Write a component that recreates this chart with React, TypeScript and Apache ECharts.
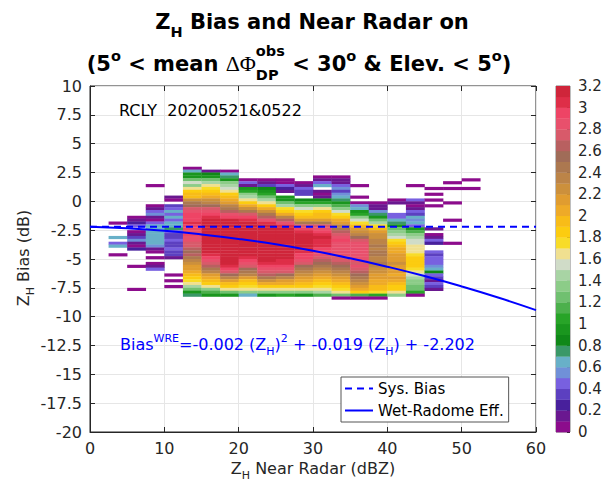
import React, { useEffect, useRef } from 'react';
import * as echarts from 'echarts';

// ---------------- data ----------------
const N = null;
// left edge (dBZ) of each 2.5-dBZ column
const X_LEFT = [2.5, 5, 7.5, 10, 12.5, 15, 17.5, 20, 22.5, 25, 27.5, 30, 32.5, 35, 37.5, 40, 42.5, 45, 47.5, 50];
// top edge (dB) of the first row of each column; rows go downward in 0.25 dB steps
const COL_TOP = [-1.75, -1.25, 1.5, 0.5, 3.0, 2.75, 2.75, 2.0, 2.0, 2.0, 1.75, 2.25, 2.25, 1.5, 0.0, 0.25, 1.5, 1.25, 1.75, 2.0];
const X_BIN = 2.5;
const Y_BIN = 0.25;

// log10(count) per cell, top row first
const col02_5 = [0.05, N, N, N, N, 0.65, N, 0.4, 0.6, N, N, 0.05];
const col05_0 = [0.05, 0.15, 0.2, 0.45, N, 0.05, 0.1, 0.35, 0.55, 0.15, 0.05, 0.25, N, N, N, N, N, 0.05, N, N, N, N, N, N, N, 0.05];
const col07_5 = [0.05, N, N, N, N, N, N, 0.05, 0.1, 0.45, 0.5, 0.1, 0.05, 0.4, 0.65, 0.65, 0.6, 0.65, 0.65, 0.65, 0.6, 0.55, 0.15, 0.05, N, 0.05, N, 0.05, 0.1, 0.4];
const col10_0 = [0.1, 0.05, N, 0.3, 0.45, 0.65, 0.4, 0.65, 0.4, 0.65, 0.6, 0.75, 0.45, 0.35, 0.35, 0.4, 0.35, 0.35, 0.4, 0.35, 0.3, 0.1, N, N, N, N, N, 0.05, N, 0.05, N, 0.05];
const col12_5 = [0.05, 0.6, 0.9, 0.95, 1.25, 1.5, 1.35, 1.6, 1.8, 1.9, 1.95, 2.2, 2.4, 2.55, 2.7, 2.8, 2.9, 2.95, 2.9, 3.0, 2.95, 2.9, 2.85, 2.9, 2.8, 2.85, 2.75, 2.7, 2.65, 2.55, 2.6, 2.45, 2.35, 2.25, 2.15, 2.1, 2.0, 1.9, 1.85, 1.75, 1.6, 1.45, 1.2, 0.95, 0.75];
const col15_0 = [0.1, 0.85, 0.95, 1.2, 1.45, 1.6, 1.75, 1.85, 1.95, 2.05, 2.2, 2.35, 2.5, 2.7, 2.85, 2.95, 3.05, 3.1, 3.15, 3.15, 3.15, 3.1, 3.15, 3.15, 3.1, 3.15, 3.1, 3.15, 3.1, 3.0, 2.9, 2.8, 2.7, 2.6, 2.45, 2.3, 2.15, 2.05, 1.9, 1.8, 1.65, 1.35, 1.1, 0.9];
const col17_5 = [0.05, 0.65, 0.7, 0.95, 1.3, 1.45, 1.55, 1.65, 1.8, 1.9, 2.0, 2.15, 2.3, 2.45, 2.6, 2.8, 2.95, 3.1, 3.15, 3.15, 3.15, 3.15, 3.15, 3.1, 3.15, 3.15, 3.15, 3.1, 3.15, 3.15, 3.15, 3.1, 3.1, 3.05, 2.9, 2.75, 2.55, 2.35, 2.15, 1.95, 1.8, 1.6, 1.25, 0.95];
const col20_0 = [0.05, 0.45, 0.1, 0.9, 1.0, 1.3, 1.45, 1.65, 1.8, 2.05, 2.25, 2.45, 2.7, 2.9, 3.05, 3.1, 3.15, 3.15, 3.15, 3.15, 3.1, 3.15, 3.15, 3.15, 3.1, 3.15, 3.1, 3.0, 2.9, 2.8, 2.7, 2.55, 2.45, 2.3, 2.1, 1.95, 1.85, 1.75, 1.6, 1.3, 0.65];
const col22_5 = [0.05, 0.1, 0.35, 0.85, 0.95, 1.05, 1.25, 1.45, 1.65, 1.85, 2.05, 2.2, 2.45, 2.65, 2.85, 3.0, 3.1, 3.15, 3.15, 3.15, 3.15, 3.1, 3.15, 3.15, 3.15, 3.1, 3.15, 3.1, 3.1, 3.0, 2.9, 2.85, 2.75, 2.6, 2.4, 2.2, 2.0, 1.85, 1.65, 1.3, 0.95];
const col25_0 = [0.05, 0.05, 0.45, 0.2, 0.1, N, 0.9, 0.95, 1.2, 1.4, 1.7, 1.85, 2.05, 2.3, 2.6, 2.85, 3.0, 3.1, 3.15, 3.15, 3.15, 3.15, 3.1, 3.15, 3.15, 3.15, 3.1, 3.1, 3.05, 3.0, 2.9, 2.85, 2.75, 2.55, 2.35, 2.15, 2.0, 1.85, 1.65, 1.3, 1.0];
const col27_5 = [0.05, 0.1, 0.45, 0.35, 0.3, N, 0.85, 1.0, 1.3, 1.5, 1.75, 1.85, 1.95, 2.15, 2.45, 2.75, 2.9, 3.0, 3.1, 3.15, 3.1, 3.15, 3.1, 3.1, 3.0, 2.95, 2.9, 2.85, 2.7, 2.55, 2.4, 2.3, 2.2, 2.1, 2.0, 1.9, 1.8, 1.6, 1.3, 0.95];
const col30_0 = [0.05, 0.15, 0.45, 0.6, N, 0.1, 0.05, 0.15, 0.85, 1.05, 1.3, 1.6, 1.8, 1.9, 1.95, 2.15, 2.45, 2.7, 2.85, 2.95, 3.0, 3.1, 3.05, 3.05, 3.0, 2.95, 2.9, 2.85, 2.75, 2.65, 2.55, 2.45, 2.35, 2.25, 2.15, 2.05, 1.95, 1.85, 1.75, 1.65, 1.45, 1.1];
const col32_5 = [0.05, 0.1, 0.15, 0.4, 0.5, 0.35, 0.55, 0.65, 0.75, 0.9, 1.15, 1.35, 1.55, 1.75, 1.85, 2.0, 2.15, 2.3, 2.45, 2.65, 2.75, 2.85, 2.9, 2.85, 2.85, 2.8, 2.85, 2.8, 2.75, 2.75, 2.65, 2.55, 2.45, 2.35, 2.25, 2.1, 2.0, 1.9, 1.85, 1.75, 1.6, 1.2, 0.05];
const col35_0 = [0.05, N, N, N, 0.05, N, 0.05, 0.55, 0.65, 0.9, 1.05, 1.3, 1.5, 1.75, 1.9, 2.1, 2.25, 2.35, 2.5, 2.7, 2.8, 2.85, 2.8, 2.85, 2.8, 2.8, 2.85, 2.75, 2.8, 2.75, 2.6, 2.5, 2.4, 2.35, 2.2, 2.1, 2.0, 1.85, 1.1, 0.05];
const col37_5 = [0.05, 0.1, 0.15, 0.55, 0.7, 0.95, 1.25, 1.45, 1.75, 1.9, 2.1, 2.2, 2.25, 2.35, 2.3, 2.4, 2.35, 2.45, 2.4, 2.35, 2.3, 2.4, 2.3, 2.25, 2.2, 2.15, 2.1, 2.05, 2.0, 1.95, 1.9, 1.75, 1.0, 0.05];
const col40_0 = [0.05, 0.1, N, N, N, 0.45, 0.4, 0.6, 0.75, 0.9, 1.2, 1.35, 1.45, 1.55, 1.7, 1.8, 1.9, 2.0, 2.05, 2.1, 2.15, 2.1, 2.2, 2.15, 2.1, 2.15, 2.05, 2.1, 2.0, 1.9, 1.85, 1.8, 1.65, 1.3];
const col42_5 = [0.05, N, N, N, N, 0.4, 0.15, 0.05, 0.1, 0.45, 0.3, 0.6, 0.5, 0.65, 0.45, 0.95, 1.15, 1.3, 1.4, 1.5, 1.55, 1.6, 1.65, 1.65, 1.7, 1.8, 1.85, 1.8, 1.85, 1.75, 1.65, 1.55, 1.4, 1.35, 1.3, 1.25, 1.2, 1.0, 0.05];
const col45_0 = [0.05, N, 0.05, N, 0.05, N, 0.05, N, N, N, N, N, N, N, 0.1, N, 0.05, 0.15, 0.45, 0.2, N, N, 0.4, 0.35, 0.45, 0.4, 0.45, 0.5, 0.65, 0.85, 0.45, 0.35, 0.15, 0.4, 0.35, 0.1];
const col47_5 = [0.05, N, 0.05, N, N, N, N, 0.05, N, N, N, N, N, 0.05, N, N, N, N, N, N, N, 0.05];
const col50_0 = [0.05, N, N, 0.05];
const COLUMNS = [col02_5, col05_0, col07_5, col10_0, col12_5, col15_0, col17_5, col20_0, col22_5, col25_0, col27_5, col30_0, col32_5, col35_0, col37_5, col40_0, col42_5, col45_0, col47_5, col50_0];

// colour map, 0.1 per level, from 0 (bottom) to 3.2 (top)
const CMAP = [
  '#8c0c8c', '#6a1890', '#48209c', '#5c40c0', '#7860e0', '#7090d8', '#68b0c8', '#3a9868',
  '#108818', '#1a961e', '#28a428', '#4cb04c', '#70c070', '#8ccc88', '#a8d4a4', '#d0dcc8',
  '#f0e090', '#f8dc28', '#fccc10', '#f8bc18', '#eeaa28', '#e09c30', '#cc903c', '#bc8448',
  '#ac7850', '#a06c58', '#b86060', '#d85a6a', '#e8506c', '#ee4465', '#de2e48', '#cf253a',
];
const CBAR_STEP = 0.1;

const SYS_BIAS_X = [0, 60];
const SYS_BIAS_Y = [-2.202, -2.202];
const WRE_X = [0, 5, 10, 15, 20, 25, 30, 35, 40, 45, 50, 55, 60];
const WRE_Y = [-2.2, -2.34, -2.56, -2.87, -3.26, -3.73, -4.29, -4.94, -5.67, -6.48, -7.38, -8.36, -9.43];

const FAM = 'DejaVu Sans';
const AX = '#262626';
const BLUE = '#0000ff';

function colorFor(v: number) {
  const i = Math.min(CMAP.length - 1, Math.max(0, Math.floor(v / CBAR_STEP + 1e-6)));
  return CMAP[i];
}

type Piece = { t: string; s: number; b?: boolean; f?: string; dy?: number; stack?: boolean };

function layout(pieces: Piece[], anchorX: number, baseY: number, align: 'left' | 'center', fill: string) {
  const ctx = document.createElement('canvas').getContext('2d') as CanvasRenderingContext2D;
  let x = 0;
  let lastX = 0;
  let lastW = 0;
  const placed: { x: number; p: Piece }[] = [];
  for (const p of pieces) {
    ctx.font = `${p.b ? 'bold ' : ''}${p.s}px "${p.f || FAM}"`;
    const w = ctx.measureText(p.t).width;
    if (p.stack) {
      placed.push({ x: lastX, p });
      lastW = Math.max(lastW, w);
      x = lastX + lastW;
    } else {
      placed.push({ x, p });
      lastX = x;
      lastW = w;
      x += w;
    }
  }
  const x0 = align === 'center' ? anchorX - x / 2 : anchorX;
  return placed.map(({ x: px, p }) => ({
    type: 'text',
    x: x0 + px,
    y: baseY + (p.dy || 0) - 0.35 * p.s,
    z: 100,
    silent: true,
    style: {
      text: p.t,
      fontSize: p.s,
      fontWeight: p.b ? 'bold' : 'normal',
      fontFamily: p.f || FAM,
      fill,
      align: 'left',
      verticalAlign: 'middle',
    },
  }));
}

export default function App() {
  const ref = useRef<HTMLDivElement>(null);
  useEffect(() => {
    if (!ref.current) return;
    const chart = echarts.init(ref.current, undefined, { renderer: 'svg' });

    const cells: number[][] = [];
    COLUMNS.forEach((col, ci) => {
      col.forEach((v, ri) => {
        if (v === null) return;
        cells.push([X_LEFT[ci], COL_TOP[ci] - ri * Y_BIN, v as number]);
      });
    });
    const cbar = CMAP.map((_, i) => [i * CBAR_STEP]);

    const title1 = layout(
      [
        { t: 'Z', s: 21, b: true },
        { t: 'H', s: 14.5, b: true, dy: 8 },
        { t: ' Bias and Near Radar on', s: 21, b: true },
      ],
      312, 29, 'center', '#000'
    );
    const title2 = layout(
      [
        { t: '(5', s: 21, b: true },
        { t: 'o', s: 14.5, b: true, dy: -10 },
        { t: ' < mean ', s: 21, b: true },
        { t: 'ΔΦ', s: 22, f: 'Liberation Serif' },
        { t: 'obs', s: 14.5, b: true, dy: -15 },
        { t: 'DP', s: 14.5, b: true, dy: 9, stack: true },
        { t: ' < 30', s: 21, b: true },
        { t: 'o', s: 14.5, b: true, dy: -10 },
        { t: ' & Elev. < 5', s: 21, b: true },
        { t: 'o', s: 14.5, b: true, dy: -10 },
        { t: ')', s: 21, b: true },
      ],
      299, 71, 'center', '#000'
    );
    const yName = layout(
      [
        { t: 'Z', s: 16 },
        { t: 'H', s: 11, dy: 5 },
        { t: ' Bias (dB)', s: 16 },
      ],
      0, 0, 'center', AX
    );
    const xName = layout(
      [
        { t: 'Z', s: 16 },
        { t: 'H', s: 11, dy: 5 },
        { t: ' Near Radar (dBZ)', s: 16 },
      ],
      313, 474, 'center', AX
    );
    const rcly = layout(
      [
        { t: 'RCLY  ', s: 16 },
        { t: '20200521&0522', s: 16 },
      ],
      119, 116, 'left', '#000'
    );
    const eq = layout(
      [
        { t: 'Bias', s: 16 },
        { t: 'WRE', s: 11, dy: -8 },
        { t: '=-0.002 (Z', s: 16 },
        { t: 'H', s: 11, dy: 5 },
        { t: ')', s: 16 },
        { t: '2', s: 11, dy: -8 },
        { t: ' + -0.019 (Z', s: 16 },
        { t: 'H', s: 11, dy: 5 },
        { t: ') + -2.202', s: 16 },
      ],
      120, 350, 'left', BLUE
    );

    const tickLabel = { fontSize: 16, color: AX, fontFamily: FAM };

    chart.setOption({
      animation: false,
      backgroundColor: '#fff',
      grid: [
        { left: 90, top: 86, width: 446, height: 346, show: true, borderColor: AX, borderWidth: 1, backgroundColor: 'transparent' },
        { left: 556, top: 86, width: 14, height: 346, show: true, borderColor: '#7f7f7f', borderWidth: 1, backgroundColor: 'transparent' },
      ],
      xAxis: [
        {
          gridIndex: 0, type: 'value', min: 0, max: 60, interval: 10,
          axisLine: { show: true, onZero: false, lineStyle: { color: AX } },
          axisTick: { show: true, inside: true, length: 5, lineStyle: { color: AX } },
          axisLabel: { ...tickLabel, margin: 8 },
          splitLine: { show: true, lineStyle: { color: '#e6e6e6', width: 1 } },
        },
        {
          gridIndex: 0, type: 'value', position: 'top', min: 0, max: 60, interval: 10,
          axisLine: { show: false, onZero: false },
          axisTick: { show: true, inside: true, length: 5, lineStyle: { color: AX } },
          axisLabel: { show: false }, splitLine: { show: false },
        },
        { gridIndex: 1, type: 'value', min: 0, max: 1, show: false },
      ],
      yAxis: [
        {
          gridIndex: 0, type: 'value', min: -20, max: 10, interval: 2.5,
          axisLine: { show: true, onZero: false, lineStyle: { color: AX } },
          axisTick: { show: true, inside: true, length: 5, lineStyle: { color: AX } },
          axisLabel: { ...tickLabel, margin: 8 },
          splitLine: { show: true, lineStyle: { color: '#e6e6e6', width: 1 } },
        },
        {
          gridIndex: 0, type: 'value', position: 'right', min: -20, max: 10, interval: 2.5,
          axisLine: { show: false, onZero: false },
          axisTick: { show: true, inside: true, length: 5, lineStyle: { color: AX } },
          axisLabel: { show: false }, splitLine: { show: false },
        },
        {
          gridIndex: 1, type: 'value', position: 'right', min: 0, max: 3.2, interval: 0.2,
          axisLine: { show: false, onZero: false },
          axisTick: { show: true, inside: true, length: 3, lineStyle: { color: AX } },
          axisLabel: { fontSize: 15, color: AX, fontFamily: FAM, margin: 8 },
          splitLine: { show: false },
        },
      ],
      legend: {
        data: ['Sys. Bias', 'Wet-Radome Eff.'],
        orient: 'vertical', left: 341, top: 377,
        padding: [4, 5, 4, 3], itemGap: 7, itemWidth: 28, itemHeight: 14,
        backgroundColor: '#fff', borderColor: '#555', borderWidth: 1,
        itemStyle: { opacity: 0 },
        textStyle: { fontSize: 15, fontFamily: FAM, color: '#000' },
        selectedMode: false,
      },
      series: [
        {
          type: 'custom', name: 'hist', xAxisIndex: 0, yAxisIndex: 0,
          dimensions: ['x', 'y', 'v'], encode: { x: 0, y: 1 },
          data: cells, silent: true, z: 2,
          renderItem: (_p: any, api: any) => {
            const x0 = api.value(0);
            const yt = api.value(1);
            const v = api.value(2);
            const a = api.coord([x0, yt]);
            const b = api.coord([x0 + X_BIN, yt - Y_BIN]);
            return {
              type: 'rect',
              shape: { x: a[0], y: a[1], width: b[0] - a[0] + 0.3, height: b[1] - a[1] + 0.3 },
              style: { fill: colorFor(v), stroke: null },
            };
          },
        },
        {
          type: 'custom', name: 'cbar', xAxisIndex: 2, yAxisIndex: 2,
          dimensions: ['lo'], encode: { y: 0 },
          data: cbar, silent: true,
          renderItem: (_p: any, api: any) => {
            const lo = api.value(0);
            const a = api.coord([0, lo + CBAR_STEP]);
            const b = api.coord([1, lo]);
            return {
              type: 'rect',
              shape: { x: a[0], y: a[1], width: b[0] - a[0], height: b[1] - a[1] + 0.3 },
              style: { fill: colorFor(lo + CBAR_STEP / 2), stroke: null },
            };
          },
        },
        {
          type: 'line', name: 'Sys. Bias', xAxisIndex: 0, yAxisIndex: 0,
          data: SYS_BIAS_X.map((x, i) => [x, SYS_BIAS_Y[i]]),
          symbol: 'none', silent: true, z: 5,
          lineStyle: { color: BLUE, width: 2, type: [7, 5] },
          itemStyle: { color: BLUE, opacity: 0 },
        },
        {
          type: 'line', name: 'Wet-Radome Eff.', xAxisIndex: 0, yAxisIndex: 0,
          data: WRE_X.map((x, i) => [x, WRE_Y[i]]),
          symbol: 'none', smooth: true, silent: true, z: 5,
          lineStyle: { color: BLUE, width: 2 },
          itemStyle: { color: BLUE, opacity: 0 },
        },
      ],
      graphic: [
        ...title1,
        ...title2,
        ...xName,
        { type: 'group', x: 29, y: 258, rotation: Math.PI / 2, z: 100, children: yName },
        ...rcly,
        ...eq,
      ],
    });
    return () => chart.dispose();
  }, []);
  return <div ref={ref} style={{ position: 'fixed', left: 0, top: 0, width: 606, height: 486 }} />;
}
